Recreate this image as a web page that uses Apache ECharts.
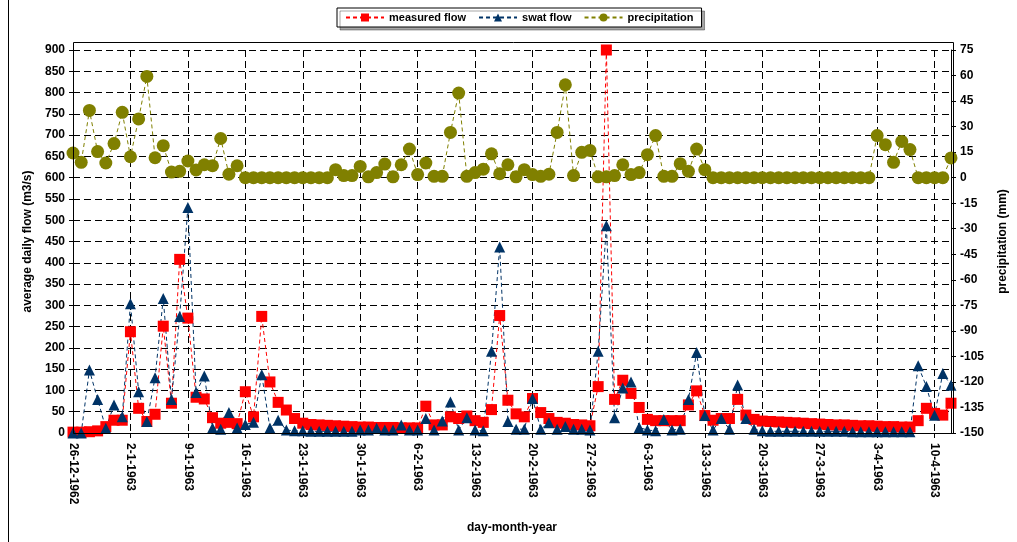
<!DOCTYPE html>
<html>
<head>
<meta charset="utf-8">
<script src="https://cdn.jsdelivr.net/npm/echarts@6.0.0/dist/echarts.min.js"></script>
<style>
html,body{margin:0;padding:0;background:#fff;}
#chart{width:1017px;height:542px;}
</style>
</head>
<body>
<div id="chart"></div>
<script>
// ---- data ----
var categories = [
'26-12-1962','27-12-1962','28-12-1962','29-12-1962','30-12-1962','31-12-1962',
'1-1-1963','2-1-1963','3-1-1963','4-1-1963','5-1-1963','6-1-1963','7-1-1963','8-1-1963','9-1-1963','10-1-1963',
'11-1-1963','12-1-1963','13-1-1963','14-1-1963','15-1-1963','16-1-1963','17-1-1963','18-1-1963','19-1-1963','20-1-1963',
'21-1-1963','22-1-1963','23-1-1963','24-1-1963','25-1-1963','26-1-1963','27-1-1963','28-1-1963','29-1-1963','30-1-1963','31-1-1963',
'1-2-1963','2-2-1963','3-2-1963','4-2-1963','5-2-1963','6-2-1963','7-2-1963','8-2-1963','9-2-1963','10-2-1963',
'11-2-1963','12-2-1963','13-2-1963','14-2-1963','15-2-1963','16-2-1963','17-2-1963','18-2-1963','19-2-1963','20-2-1963',
'21-2-1963','22-2-1963','23-2-1963','24-2-1963','25-2-1963','26-2-1963','27-2-1963','28-2-1963',
'1-3-1963','2-3-1963','3-3-1963','4-3-1963','5-3-1963','6-3-1963','7-3-1963','8-3-1963','9-3-1963','10-3-1963',
'11-3-1963','12-3-1963','13-3-1963','14-3-1963','15-3-1963','16-3-1963','17-3-1963','18-3-1963','19-3-1963','20-3-1963',
'21-3-1963','22-3-1963','23-3-1963','24-3-1963','25-3-1963','26-3-1963','27-3-1963','28-3-1963','29-3-1963','30-3-1963','31-3-1963',
'1-4-1963','2-4-1963','3-4-1963','4-4-1963','5-4-1963','6-4-1963','7-4-1963','8-4-1963','9-4-1963','10-4-1963','11-4-1963','12-4-1963'
];

var measuredFlow = [
2,2,3,5,15,30,30,238,58,27,
44,251,70,408,270,84,80,36,23,25,
22,97,38,274,120,72,54,34,23,20,
19,18,17,16,15,14,14,13,13,13,
12,12,12,63,19,19,38,34,40,29,
25,55,276,77,45,38,81,48,34,25,
23,20,19,17,109,900,79,124,93,60,
32,29,29,29,29,66,99,41,30,34,
34,79,42,32,28,27,26,25,24,23,
22,21,20,19,19,18,17,17,16,15,
15,14,14,29,58,46,42,70
];

var swatFlow = [
0,0,148,79,11,66,38,304,97,27,
130,316,79,274,530,95,134,12,9,48,
12,20,25,137,12,30,7,5,5,4,
4,4,4,4,4,7,7,11,7,7,
19,7,7,34,7,28,73,7,36,7,
5,192,437,27,9,9,81,9,24,9,
15,9,9,7,192,487,36,106,120,13,
7,5,32,7,9,79,189,41,7,34,
9,113,34,9,5,4,4,4,4,4,
4,4,4,4,4,3,3,3,3,3,
3,3,3,158,109,42,140,112
];

var precipitation = [
14.5,9,39.5,15.3,8.6,20,38.4,12.3,34.5,59.5,
11.7,18.8,3.3,3.7,9.8,4.5,7.6,7,23,2,
7,0,0,0,0,0,0,0,0,0,
0,0,4.7,1.2,1.2,6.6,0.5,3,8,0.5,
7.6,16.8,1.8,8.6,0.8,0.8,26.6,49.7,0.8,3,
5,14,2.3,7.6,0.5,4.7,1.8,0.8,2,26.6,
54.6,1.2,14.9,16,0.5,0.5,1.2,7.6,1.8,3,
13.5,24.7,0.8,0.8,8.2,3.7,16.8,4.7,0,0,
0,0,0,0,0,0,0,0,0,0,
0,0,0,0,0,0,0,0,24.7,19.4,
9,21.3,16.5,0,0,0,0,11.6
];

var seriesNames = ['measured flow','swat flow','precipitation'];

// ---- chart ----
var FONT = "'Liberation Sans', Arial, sans-serif";
var chart = echarts.init(document.getElementById('chart'), null, {renderer:'canvas'});
var gridDash = {color:'#000', width:1, type:[7,4]};

var option = {
  animation:false,
  backgroundColor:'#fff',
  textStyle:{fontFamily:FONT},
  legend:{
    data:seriesNames,
    left:337, top:8,
    padding:[4,8,4,8],
    itemGap:12, itemWidth:38, itemHeight:10,
    backgroundColor:'#fff',
    borderColor:'#000', borderWidth:1,
    shadowColor:'rgba(0,0,0,0.35)', shadowOffsetX:3, shadowOffsetY:3, shadowBlur:0,
    textStyle:{fontFamily:FONT, fontSize:11, fontWeight:'bold', color:'#000'}
  },
  grid:{left:73, right:64, top:50, bottom:109, containLabel:false},
  xAxis:{
    type:'category', data:categories, boundaryGap:false,
    name:'day-month-year', nameLocation:'middle', nameGap:89,
    nameTextStyle:{fontFamily:FONT, fontSize:12, fontWeight:'bold', color:'#000'},
    axisLine:{show:true, lineStyle:{color:'#000', width:1}},
    axisTick:{show:true, interval:6, length:5, lineStyle:{color:'#000'}},
    axisLabel:{interval:6, rotate:-90, margin:10, fontFamily:FONT, fontSize:12, fontWeight:'bold', color:'#000'},
    splitLine:{show:true, interval:6, lineStyle:gridDash}
  },
  yAxis:[{
    type:'value', min:0, max:900, interval:50, position:'left',
    name:'average daily flow (m3/s)', nameLocation:'middle', nameGap:37, nameRotate:90,
    nameTextStyle:{fontFamily:FONT, fontSize:12, fontWeight:'bold', color:'#000'},
    axisLine:{show:true, lineStyle:{color:'#000', width:1}},
    axisTick:{show:true, length:4, lineStyle:{color:'#000'}},
    axisLabel:{margin:8, fontFamily:FONT, fontSize:12, fontWeight:'bold', color:'#000'},
    splitLine:{show:true, lineStyle:gridDash}
  },{
    type:'value', min:-150, max:75, interval:15, position:'right', alignTicks:false,
    name:'precipitation (mm)', nameLocation:'middle', nameGap:46, nameRotate:90,
    nameTextStyle:{fontFamily:FONT, fontSize:12, fontWeight:'bold', color:'#000'},
    axisLine:{show:true, lineStyle:{color:'#000', width:1}},
    axisTick:{show:true, length:5, lineStyle:{color:'#000'}},
    axisLabel:{margin:9, fontFamily:FONT, fontSize:12, fontWeight:'bold', color:'#000'},
    splitLine:{show:false}
  }],
  series:[{
    name:seriesNames[0], type:'line', yAxisIndex:0, data:measuredFlow,
    symbol:'rect', symbolSize:11, showAllSymbol:true,
    itemStyle:{color:'#FF0000'},
    lineStyle:{color:'#FF0000', width:1, type:[4,3]}
  },{
    name:seriesNames[1], type:'line', yAxisIndex:0, data:swatFlow,
    symbol:'triangle', symbolSize:[11,11], showAllSymbol:true,
    itemStyle:{color:'#003366'},
    lineStyle:{color:'#003366', width:1, type:[4,3]}
  },{
    name:seriesNames[2], type:'line', yAxisIndex:1, data:precipitation,
    symbol:'circle', symbolSize:13, showAllSymbol:true,
    itemStyle:{color:'#808000'},
    lineStyle:{color:'#808000', width:1, type:[4,3]}
  }],
  graphic:[
    {type:'rect', silent:true, z:100, shape:{x:73.5, y:42.5, width:880, height:391},
     style:{fill:null, stroke:'#000', lineWidth:1}},
    {type:'line', silent:true, z:100, shape:{x1:8.5, y1:0, x2:8.5, y2:542},
     style:{stroke:'#000', lineWidth:1}}
  ]
};
chart.setOption(option);
</script>
</body>
</html>
